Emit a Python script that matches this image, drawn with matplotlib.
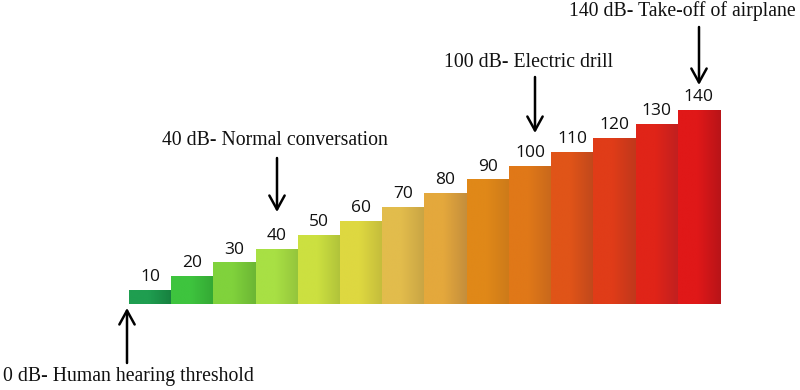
import matplotlib.pyplot as plt
import matplotlib.colors as mcolors
import numpy as np

levels = [10, 20, 30, 40, 50, 60, 70, 80, 90, 100, 110, 120, 130, 140]
left_colors = ['#1f9e50', '#3ec43e', '#80d23c', '#a8e044', '#cce040', '#ded840', '#e2bc4c',
               '#e4a83c', '#e08818', '#e07818', '#e05418', '#e03c18', '#e02418', '#e01818']
right_colors = ['#17803f', '#34a834', '#6cb634', '#94c43c', '#b0c23a', '#c4bc3c', '#c8a444',
                '#c48e3c', '#cc7a1a', '#c8681c', '#c0481c', '#c0381c', '#c02020', '#b81418']

notes = ['0 dB- Human hearing threshold', '40 dB- Normal conversation',
         '100 dB- Electric drill', '140 dB- Take-off of airplane']

fig = plt.figure(figsize=(8, 3.9), dpi=100)
ax = fig.add_axes([0, 0, 1, 1])
ax.axis('off')

# pixel -> data mapping (bars span 129..720 px, baseline at y=304 px)
ppx = 591 / 14
ppy = 1.385
ax.set_xlim(-0.5 - 129 / ppx, -0.5 + (800 - 129) / ppx)
ax.set_ylim(-(390 - 304) / ppy, 304 / ppy)

def px(x):
    return -0.5 + (x - 129) / ppx

def py(y):
    return (304 - y) / ppy

xs = np.arange(len(levels))
bars = ax.bar(xs, levels, width=1.0, color='none', edgecolor='none')

t = np.linspace(0, 1, 100)
ramp = np.clip((t - 0.45) / 0.55, 0, 1)
for b, c1, c2 in zip(bars, left_colors, right_colors):
    a = np.array(mcolors.to_rgb(c1))
    z = np.array(mcolors.to_rgb(c2))
    grad = a[None, :] * (1 - ramp[:, None]) + z[None, :] * ramp[:, None]
    x0 = b.get_x()
    im = ax.imshow(grad[None, :, :], extent=[x0, x0 + b.get_width(), 0, b.get_height()],
                   aspect='auto', interpolation='bilinear', zorder=2)
    im.set_clip_path(b)

for x, v in zip(xs, levels):
    ax.text(x, v + 3.5, str(v), ha='center', va='bottom', fontsize=12.5,
            family='Open Sans', color='#111111', zorder=3)

arrow = dict(arrowstyle='->,head_length=1.0,head_width=0.55', color='black', lw=1.8,
             shrinkA=0, shrinkB=0)

serif = dict(va='center', fontsize=14.2, family='Liberation Serif', color='#111111')

# 0 dB
ax.annotate('', xy=(px(127), py(308)), xytext=(px(127), py(363)), arrowprops=arrow)
ax.text(px(3), py(377), notes[0], ha='left', **serif)
# 40 dB
ax.annotate('', xy=(px(277), py(212)), xytext=(px(277), py(158)), arrowprops=arrow)
ax.text(px(162), py(140), notes[1], ha='left', **serif)
# 100 dB
ax.annotate('', xy=(px(535), py(133)), xytext=(px(535), py(77)), arrowprops=arrow)
ax.text(px(444), py(62), notes[2], ha='left', **serif)
# 140 dB
ax.annotate('', xy=(px(699), py(85)), xytext=(px(699), py(27)), arrowprops=arrow)
ax.text(px(796), py(11), notes[3], ha='right', **serif)

fig.savefig('out.png', dpi=100, facecolor='white')
